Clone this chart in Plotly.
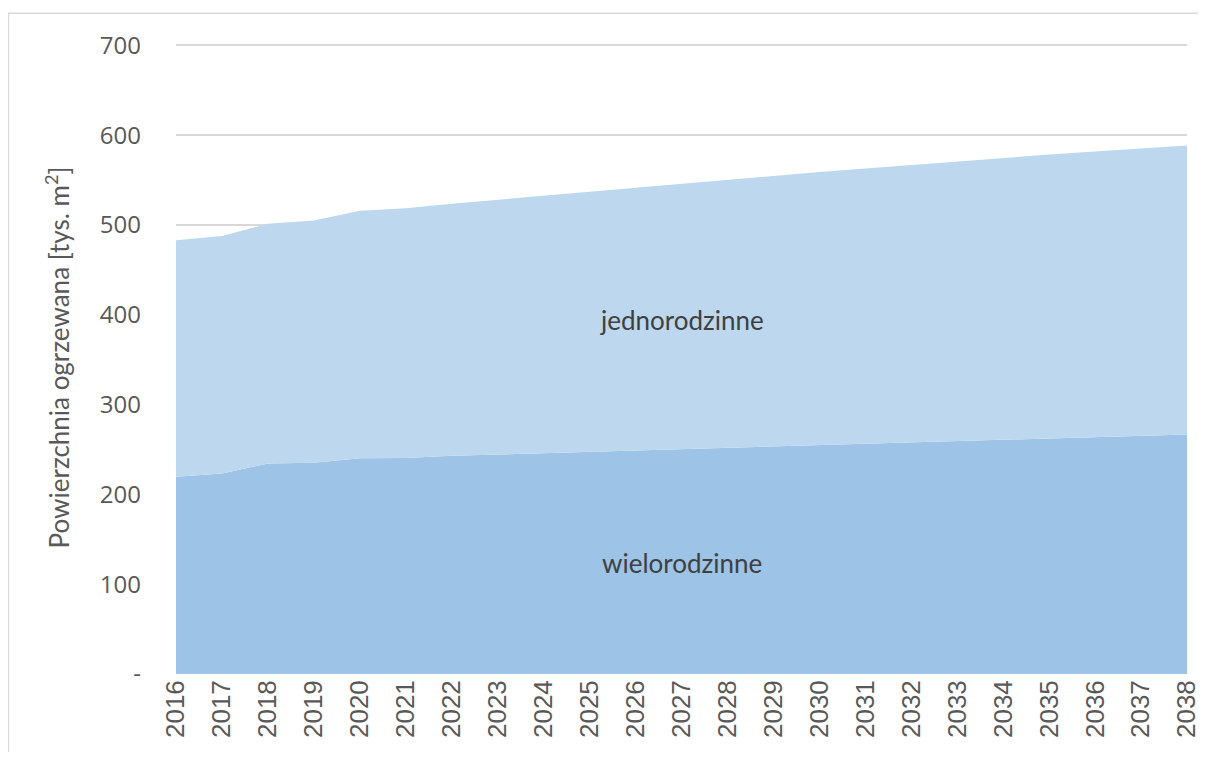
import plotly.graph_objects as go

years = list(range(2016, 2039))
wielorodzinne = [219.6, 223.3, 234.5, 235.2, 240.4, 240.7, 243.0, 244.5, 246.0, 247.5,
                 249.0, 250.5, 252.0, 253.5, 255.0, 256.5, 258.0, 259.5, 261.0, 262.5,
                 264.0, 265.5, 266.8]
total = [483.0, 487.8, 501.5, 505.0, 516.0, 518.6, 523.8, 528.0, 532.5, 537.0,
         541.5, 546.0, 550.5, 555.0, 559.0, 563.0, 567.0, 571.0, 575.0, 578.5,
         582.0, 585.0, 588.5]
jednorodzinne = [round(t - w, 1) for t, w in zip(total, wielorodzinne)]

y_tickvals = [0, 100, 200, 300, 400, 500, 600, 700]
y_ticktext = ["-", "100", "200", "300", "400", "500", "600", "700"]

fig = go.Figure()
fig.add_trace(go.Scatter(x=years, y=wielorodzinne, name="wielorodzinne", stackgroup="one",
                         mode="lines", line=dict(width=0, color="#9DC3E6"),
                         fillcolor="#9DC3E6", hoverinfo="x+y"))
fig.add_trace(go.Scatter(x=years, y=jednorodzinne, name="jednorodzinne", stackgroup="one",
                         mode="lines", line=dict(width=0, color="#BDD7EE"),
                         fillcolor="#BDD7EE", hoverinfo="x+y"))

fig.add_annotation(x=2027, y=394, text="jednorodzinne", showarrow=False,
                   font=dict(family="Lato, Open Sans, sans-serif", size=26, color="#404040"))
fig.add_annotation(x=2027, y=123.5, text="wielorodzinne", showarrow=False,
                   font=dict(family="Lato, Open Sans, sans-serif", size=26, color="#404040"))

fig.add_shape(type="rect", xref="paper", yref="paper", x0=-0.1657, x1=2, y0=-1, y1=1.0438,
              line=dict(color="#D9D9D9", width=1.5), fillcolor="rgba(0,0,0,0)", layer="below")

fig.update_layout(
    width=1198, height=744,
    margin=dict(l=168, r=19, t=33, b=78, autoexpand=False),
    paper_bgcolor="white", plot_bgcolor="white",
    showlegend=False,
    font=dict(family="Open Sans, sans-serif", color="#595959", size=22),
    xaxis=dict(range=[2016, 2038], tickmode="array", tickvals=years,
               ticktext=[str(y) for y in years], tickangle=-90, automargin=False,
               showgrid=False, zeroline=False, showline=False, ticks="",
               tickfont=dict(family="Liberation Sans, Arial, sans-serif", size=26, color="#595959")),
    yaxis=dict(range=[0, 705], tickmode="array", tickvals=y_tickvals, ticktext=y_ticktext,
               showgrid=True, gridcolor="#D9D9D9", gridwidth=1.5, zeroline=False,
               showline=False, ticks="", ticklabelstandoff=34, automargin=False,
               tickfont=dict(family="Open Sans, sans-serif", size=24, color="#595959"),
               title=dict(text="Powierzchnia ogrzewana [tys. m<sup>2</sup>]",
                          font=dict(family="Lato, Open Sans, sans-serif", size=26, color="#595959"),
                          standoff=22)),
)

fig.write_html("out.html")
